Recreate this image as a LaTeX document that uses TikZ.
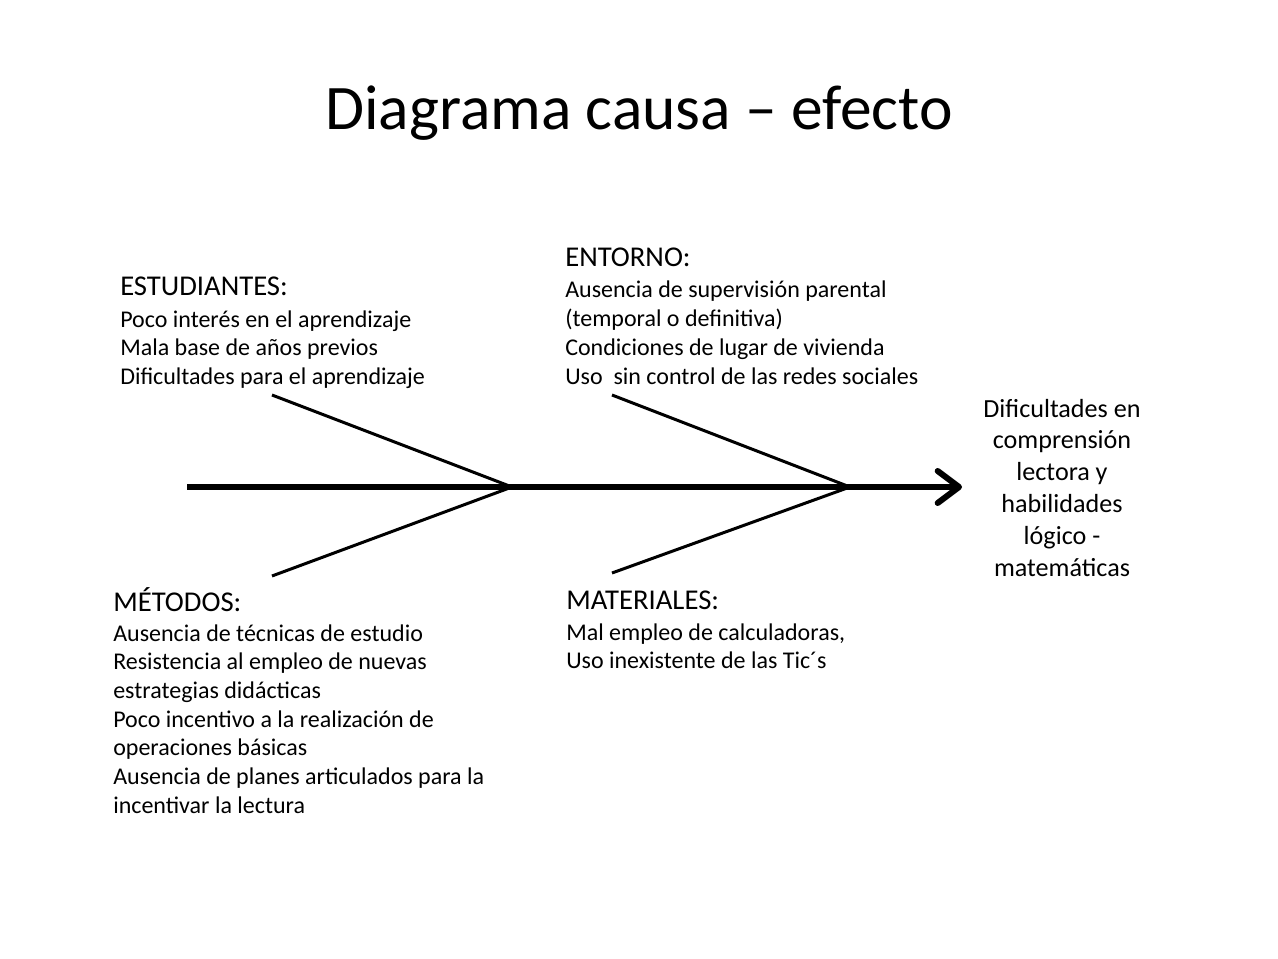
\documentclass[tikz,border=0pt]{standalone}
\usepackage{fontspec}
\setmainfont{Carlito}
\usetikzlibrary{arrows.meta}
\begin{document}
\begin{tikzpicture}
		[
			x = 0.75pt, y = -0.75pt,
			head/.style = {anchor = base west, inner sep = 0pt, font = \fontsize{21.5}{26}\selectfont},
			item/.style = {anchor = base west, inner sep = 0pt, font = \fontsize{18}{22}\selectfont},
			effect/.style = {anchor = base, inner sep = 0pt, font = \fontsize{19.6}{24}\selectfont},
			bone/.style = {line width = 2.25pt},
			spine/.style = {line width = 4.5pt, -{Straight Barb[length = 16pt, width = 24pt, round]}}
		]
		\useasboundingbox (0,0) rectangle (1278,959);
		\node[anchor = base, inner sep = 0pt, font = \fontsize{47.6}{57}\selectfont] (title) at (639,130) {Diagrama causa – efecto};

		\coordinate (tail) at (187,487);
		\coordinate (tip) at (962,487);
		\coordinate (j1) at (512,487);
		\coordinate (j2) at (850,487);
		\coordinate (b1) at (272,395);
		\coordinate (b2) at (272,576);
		\coordinate (b3) at (612,395);
		\coordinate (b4) at (612,573);

		\draw[spine] (tail) -- (tip);
		\draw[bone] (b1) -- (j1) -- (b2);
		\draw[bone] (b3) -- (j2) -- (b4);

		\node[head] (estudiantes) at (120,296) {ESTUDIANTES:};
		\foreach \t [count = \i] in {Poco interés en el aprendizaje, Mala base de años previos, Dificultades para el aprendizaje}
			\node[item] (est\i) at (120,{327+28.7*(\i-1)}) {\t};

		\node[head] (entorno) at (565,267) {ENTORNO:};
		\foreach \t [count = \i] in {Ausencia de supervisión parental, (temporal o definitiva), Condiciones de lugar de vivienda, Uso\ \ sin control de las redes sociales}
			\node[item] (ent\i) at (565,{298+28.7*(\i-1)}) {\t};

		\node[head] (metodos) at (113,611) {MÉTODOS:};
		\foreach \t [count = \i] in {Ausencia de técnicas de estudio, Resistencia al empleo de nuevas, estrategias didácticas, Poco incentivo a la realización de, operaciones básicas, Ausencia de planes articulados para la, incentivar la lectura}
			\node[item] (met\i) at (113,{641+28.7*(\i-1)}) {\t};

		\node[head] (materiales) at (566,609) {MATERIALES:};
		\foreach \t [count = \i] in {{Mal empleo de calculadoras,}, Uso inexistente de las Tic´s}
			\node[item] (mat\i) at (566,{640+28.7*(\i-1)}) {\t};

		\foreach \t [count = \i] in {Dificultades en, comprensión, lectora y, habilidades, lógico -, matemáticas}
			\node[effect] (efecto\i) at (1062,{417+31.8*(\i-1)}) {\t};
\end{tikzpicture}
\end{document}
